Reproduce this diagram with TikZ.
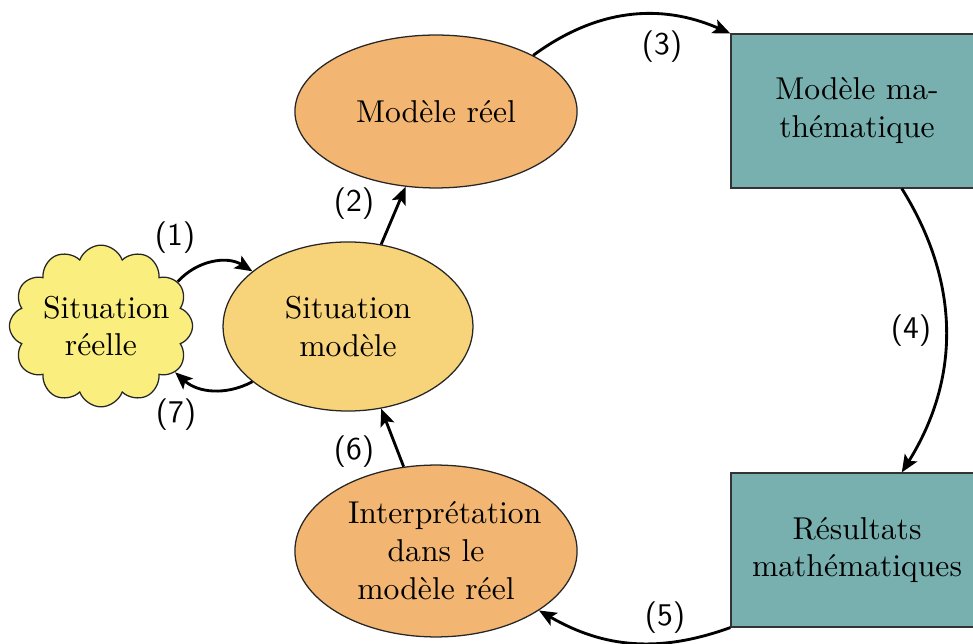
\documentclass[tikz,border=0pt]{standalone}
\usetikzlibrary{shapes.geometric,shapes.symbols,arrows.meta}
\definecolor{orangeM}{RGB}{242,181,114}
\definecolor{yellowS}{RGB}{247,211,122}
\definecolor{cloudY}{RGB}{250,238,126}
\definecolor{tealR}{RGB}{120,176,176}
\begin{document}
\begin{tikzpicture}[x=0.3165pt,y=-0.3165pt,
  ell/.style={ellipse, draw=black!85, line width=0.4pt, inner sep=1pt, align=center},
  box/.style={rectangle, draw=black!80, line width=0.4pt, fill=tealR, minimum width=79.8pt, minimum height=48.7pt, align=center},
  arr/.style={-{Stealth[length=5.5pt,width=4.6pt,inset=1.2pt]}, line width=0.9pt},
  lab/.style={font=\sffamily, inner sep=0pt}]
\clip (0,0) rectangle (973,644);
\node[ell, fill=orangeM, minimum width=89.3pt, minimum height=48.4pt] (mr) at (436,111.5) {Modèle réel};
\node[ell, fill=yellowS, minimum width=79.1pt, minimum height=53.5pt] (sm) at (348,326.5) {Situation\\modèle};
\node[ell, fill=orangeM, minimum width=89.3pt, minimum height=54.4pt, text width=55.7pt] (ip) at (436,551) {\mbox{Interprétation}\\dans le\\modèle réel};
\node[cloud, draw=black!85, line width=0.4pt, fill=cloudY, cloud puffs=12, cloud puff arc=140, aspect=1.2, shape border rotate=15, minimum width=57.6pt, minimum height=49pt, inner sep=0pt, text width=36.7pt, align=center] (sr) at (101,326) {\mbox{Situation}\\réelle};
\node[box] (rm) at (857,111) {Modèle ma-\\thématique};
\node[box] (rr) at (857,550) {Résultats\\mathématiques};
\draw[arr] (sr.30) to[bend left=40] (sm.150);
\draw[arr] (sm.210) to[bend left=35] (sr.-32);
\draw[arr] (sm.68) -- (mr.248);
\draw[arr] (mr.30) to[bend left=30] (rm.north west);
\draw[arr] (rm.-60) to[bend left=32] (rr.60);
\draw[arr] (rr.south west) to[bend left=25] (ip.-30);
\draw[arr] (ip.111) -- (sm.292);
\node[lab] (l1) at (175,238) {(1)};
\node[lab] (l2) at (354,204) {(2)};
\node[lab] (l3) at (662,47) {(3)};
\node[lab] (l4) at (911,331) {(4)};
\node[lab] (l5) at (665,618) {(5)};
\node[lab] (l6) at (354,452) {(6)};
\node[lab] (l7) at (176,415) {(7)};
\end{tikzpicture}
\end{document}
